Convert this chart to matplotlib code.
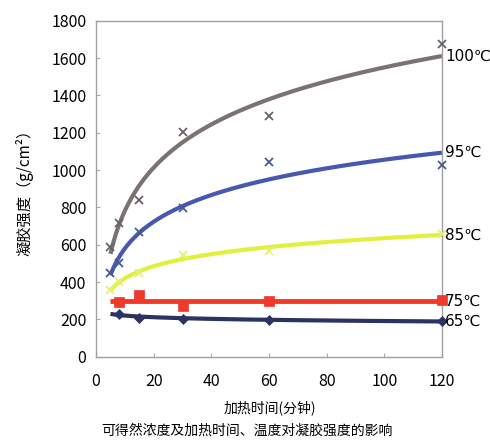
import numpy as np
import matplotlib
matplotlib.use("Agg")
import matplotlib.pyplot as plt

plt.rcParams['font.family'] = ['Noto Sans CJK SC', 'DejaVu Sans']

# Data
t100 = [5, 8, 15, 30, 60, 120]
v100 = [590, 715, 840, 1205, 1290, 1675]
t95 = [5, 8, 15, 30, 60, 120]
v95 = [446, 500, 668, 799, 1045, 1027]
t85 = [5, 8, 15, 30, 60, 120]
v85 = [355, 400, 450, 545, 565, 660]
t75 = [8, 15, 30, 60, 120]
v75 = [292, 328, 274, 300, 302]
t65 = [8, 15, 30, 60, 120]
v65 = [229, 210, 203, 197, 192]

labels = ['100℃', '95℃', '85℃', '75℃', '65℃']
xticks = [0, 20, 40, 60, 80, 100, 120]
yticks = [0, 200, 400, 600, 800, 1000, 1200, 1400, 1600, 1800]

fig = plt.figure(figsize=(4.9, 4.42), dpi=100)
ax = fig.add_axes([0.196, 0.193, 0.706, 0.760])

series = [
    (t100, v100, '#7d7272', 'x', '#6a6070', 'log'),
    (t95, v95, '#4858b0', 'x', '#4a5a90', 'log'),
    (t85, v85, '#e2f03c', 'x', '#e8f070', 'log'),
    (t75, v75, '#f23a26', 's', '#ee3a2a', 'lin'),
    (t65, v65, '#2c3262', 'D', '#2c3262', 'log'),
]

xf = np.linspace(5, 120, 200)
for (t, v, lc, mk, mc, kind), lab in zip(series, labels):
    t = np.array(t, float)
    v = np.array(v, float)
    if kind == 'log':
        a, b = np.polyfit(np.log(t), v, 1)
        yf = a * np.log(xf) + b
    else:
        a, b = np.polyfit(t, v, 1)
        yf = a * xf + b
    lw = 3.5 if kind == 'lin' else 3
    ax.plot(xf, yf, color=lc, lw=lw, zorder=2, solid_capstyle='butt')
    ms = {'x': 6, 's': 7, 'D': 5}[mk]
    ax.plot(t, v, linestyle='none', marker=mk, color=mc, ms=ms,
            markeredgewidth=1.3 if mk == 'x' else 0.5, zorder=3,
            clip_on=False)
    ax.text(121, yf[-1], lab, fontsize=11, va='center', ha='left',
            clip_on=False, family=['DejaVu Sans', 'Noto Sans CJK SC'])

ax.set_xlim(0, 120)
ax.set_ylim(0, 1800)
ax.set_xticks(xticks)
ax.set_yticks(yticks)
ax.tick_params(direction='in', length=3, color='#aaaaaa', labelsize=11.5)
ax.tick_params(axis='x', pad=12)
ax.tick_params(axis='y', pad=7)
for s in ax.spines.values():
    s.set_color('#a0a0a0')
    s.set_linewidth(1)

ax.set_ylabel('凝胶强度（g/cm²）', fontsize=11, labelpad=13)
fig.text(0.55, 0.078, '加热时间(分钟)', ha='center', va='center', fontsize=10)
fig.text(0.503, 0.025, '可得然浓度及加热时间、温度对凝胶强度的影响', ha='center',
         va='center', fontsize=10)

fig.savefig('out.png', dpi=100)
